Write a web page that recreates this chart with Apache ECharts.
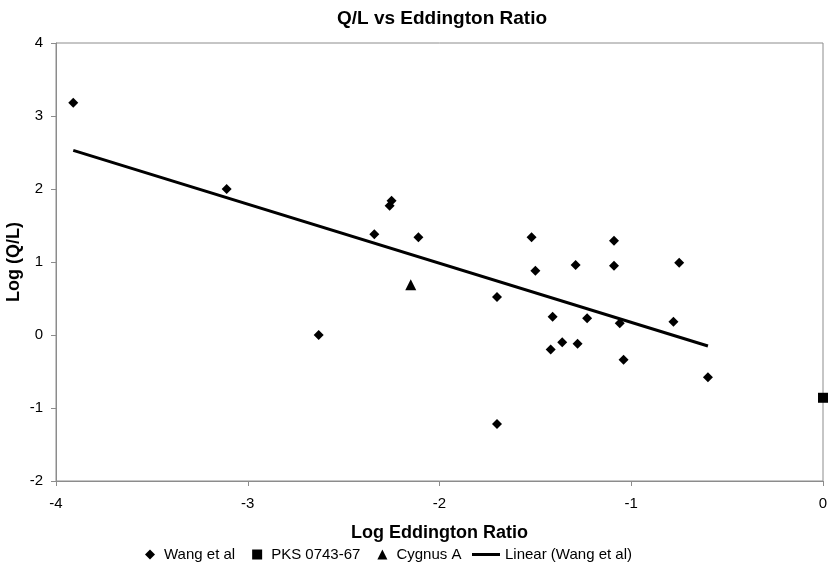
<!DOCTYPE html>
<html>
<head>
<meta charset="utf-8">
<script src="https://cdn.jsdelivr.net/npm/echarts@6/dist/echarts.min.js"></script>
<style>
  html, body { margin: 0; padding: 0; background: #fff; }
  #main { width: 830px; height: 572px; }
</style>
</head>
<body>
<div id="main"></div>
<script>
// Wang et al points [log Eddington ratio, log Q/L]
var wangX = [-3.91, -3.11, -2.63, -2.34, -2.26, -2.25, -2.11, -1.70, -1.70, -1.52, -1.50, -1.41,
             -1.42, -1.36, -1.28, -1.29, -1.23, -1.09, -1.09, -1.06, -1.04, -0.75, -0.78, -0.60];
var wangY = [3.18, 2.00, 0.00, 1.38, 1.77, 1.84, 1.34, 0.52, -1.22, 1.34, 0.88, 0.25,
             -0.20, -0.10, -0.12, 0.96, 0.23, 1.29, 0.95, 0.16, -0.34, 0.99, 0.18, -0.58];
var pksPoint = [0.0, -0.86];
var cygnusPoint = [-2.15, 0.69];
// linear trend line ends
var trendX = [-3.91, -0.60];
var trendY = [2.53, -0.15];

function pairs(xs, ys) {
  return xs.map(function (x, i) { return [x, ys[i]]; });
}

var dom = document.getElementById('main');
var myChart = echarts.init(dom);
var font = 'Liberation Sans, Arial, sans-serif';
var axisGray = '#8c8c8c';

var option = {
  animation: false,
  textStyle: { fontFamily: font, color: '#000' },
  title: {
    text: 'Q/L vs Eddington Ratio',
    left: 437,
    textAlign: 'center',
    top: 4,
    textStyle: { fontSize: 19, fontWeight: 'bold', color: '#000', fontFamily: font }
  },
  grid: {
    left: 56, right: 7, top: 43, bottom: 91,
    outerBoundsMode: 'none',
    show: true, borderColor: axisGray, borderWidth: 1
  },
  legend: [
    {
      left: 140,
      bottom: 5,
      itemWidth: 10,
      itemHeight: 10,
      itemGap: 17,
      textStyle: { fontSize: 15, color: '#000', fontFamily: font, padding: [0, 0, 0, 4] },
      data: [
        { name: 'Wang et al', icon: 'diamond' },
        { name: 'PKS 0743-67', icon: 'rect' },
        { name: 'Cygnus A', icon: 'triangle' }
      ]
    },
    {
      left: 467,
      bottom: 5,
      itemWidth: 28,
      itemHeight: 3,
      textStyle: { fontSize: 15, color: '#000', fontFamily: font },
      data: [{ name: 'Linear (Wang et al)', icon: 'rect' }]
    }
  ],
  xAxis: {
    type: 'value',
    min: -4, max: 0, interval: 1,
    name: 'Log Eddington Ratio',
    nameLocation: 'middle',
    nameGap: 43,
    nameMoveOverlap: false,
    nameTextStyle: { fontSize: 18, fontWeight: 'bold', color: '#000', fontFamily: font },
    axisLine: { show: true, onZero: false, lineStyle: { color: axisGray } },
    axisTick: { show: true, inside: false, length: 5, lineStyle: { color: axisGray } },
    axisLabel: { fontSize: 15, color: '#000', margin: 15, fontFamily: font },
    splitLine: { show: false }
  },
  yAxis: {
    type: 'value',
    min: -2, max: 4, interval: 1,
    name: 'Log (Q/L)',
    nameLocation: 'middle',
    nameGap: 33,
    nameMoveOverlap: false,
    nameTextStyle: { fontSize: 18, fontWeight: 'bold', color: '#000', fontFamily: font },
    axisLine: { show: true, onZero: false, lineStyle: { color: axisGray } },
    axisTick: { show: true, inside: false, length: 5, lineStyle: { color: axisGray } },
    axisLabel: { fontSize: 15, color: '#000', margin: 13, fontFamily: font },
    splitLine: { show: false }
  },
  series: [
    {
      name: 'Wang et al',
      type: 'scatter',
      symbol: 'diamond',
      symbolSize: 10,
      itemStyle: { color: '#000', opacity: 1 },
      data: pairs(wangX, wangY)
    },
    {
      name: 'PKS 0743-67',
      type: 'scatter',
      symbol: 'rect',
      symbolSize: 10,
      itemStyle: { color: '#000', opacity: 1 },
      data: [pksPoint]
    },
    {
      name: 'Cygnus A',
      type: 'scatter',
      symbol: 'triangle',
      symbolSize: 11,
      itemStyle: { color: '#000', opacity: 1 },
      data: [cygnusPoint]
    },
    {
      name: 'Linear (Wang et al)',
      type: 'line',
      symbol: 'none',
      lineStyle: { color: '#000', width: 3 },
      itemStyle: { color: '#000' },
      data: pairs(trendX, trendY)
    }
  ]
};

myChart.setOption(option);
</script>
</body>
</html>
